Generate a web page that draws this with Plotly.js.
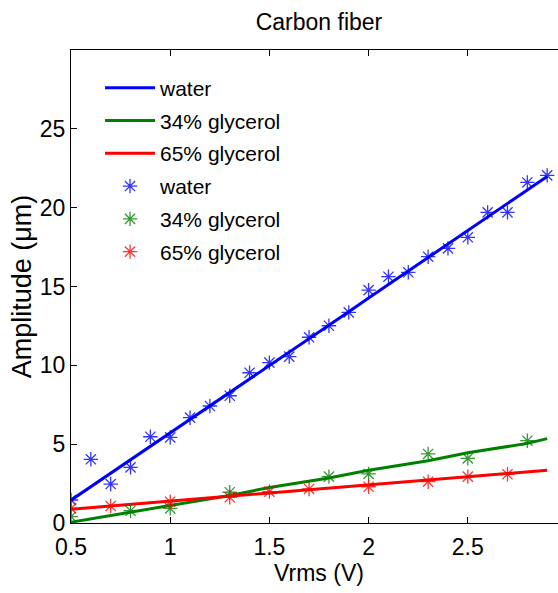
<!DOCTYPE html>
<html>
<head>
<meta charset="utf-8">
<script src="https://cdn.plot.ly/plotly-3.0.1.min.js"></script>
<style>
html,body{margin:0;padding:0;overflow:hidden;background:#fff;}
#chart{width:577px;height:593px;}
</style>
</head>
<body>
<div id="chart"></div>
<script>
// Measured points (Vrms in V, amplitude in µm)
var waterX = [0.5,0.6,0.7,0.8,0.9,1.0,1.1,1.2,1.3,1.4,1.5,1.6,1.7,1.8,1.9,2.0,2.1,2.2,2.3,2.4,2.5,2.6,2.7,2.8,2.9];
var waterY = [1.46,4.04,2.47,3.53,5.47,5.43,6.68,7.42,8.07,9.53,10.17,10.55,11.78,12.51,13.36,14.77,15.62,15.9,16.89,17.42,18.12,19.7,19.7,21.6,22.05];

var gly34X = [0.5,0.8,1.0,1.3,1.8,2.0,2.3,2.5,2.8];
var gly34Y = [0.4,0.78,0.93,1.95,2.94,3.11,4.38,4.1,5.22];

var gly65X = [0.5,0.7,1.0,1.3,1.5,1.7,2.0,2.3,2.5,2.7];
var gly65Y = [0.93,1.08,1.35,1.63,1.99,2.16,2.3,2.62,2.94,3.09];

// Fitted curves
var waterFitX = [0.5,0.6,0.7,0.8,0.9,1.0,1.1,1.2,1.3,1.4,1.5,1.6,1.7,1.8,1.9,2.0,2.1,2.2,2.3,2.4,2.5,2.6,2.7,2.8,2.9];
var waterFitY = [1.45,2.3,3.15,4.0,4.85,5.72,6.58,7.43,8.28,9.13,9.99,10.84,11.7,12.55,13.4,14.27,15.12,15.97,16.83,17.68,18.55,19.4,20.26,21.12,21.98];

var gly34FitX = [0.5,0.8,1.0,1.3,1.5,1.8,2.0,2.3,2.5,2.8,2.9];
var gly34FitY = [0.05,0.7,1.1,1.75,2.25,2.85,3.35,3.95,4.45,5.05,5.35];

var gly65FitX = [0.5,0.7,1.0,1.3,1.5,1.7,2.0,2.3,2.5,2.7,2.9];
var gly65FitY = [0.87,1.08,1.38,1.7,1.9,2.12,2.42,2.73,2.94,3.15,3.35];

var names = ['water','34% glycerol','65% glycerol'];
var colors = ['#0000ff','#008000','#ff0000'];
var markerColors = ['rgba(0,0,255,0.8)','rgba(0,128,0,0.8)','rgba(255,0,0,0.8)'];

var fitsX = [waterFitX, gly34FitX, gly65FitX];
var fitsY = [waterFitY, gly34FitY, gly65FitY];
var ptsX = [waterX, gly34X, gly65X];
var ptsY = [waterY, gly34Y, gly65Y];

var FONT = 'Liberation Sans, Arial, Helvetica, sans-serif';
var traces = [];
for (var i = 0; i < 3; i++) {
  traces.push({
    x: fitsX[i], y: fitsY[i], type: 'scatter', mode: 'lines', name: names[i],
    legendgroup: 'fit' + i,
    line: {color: colors[i], width: 3}
  });
}
for (var j = 0; j < 3; j++) {
  traces.push({
    x: ptsX[j], y: ptsY[j], type: 'scatter', mode: 'markers', name: names[j],
    legendgroup: 'pts' + j,
    marker: {symbol: 'asterisk-open', size: 12, color: markerColors[j],
             line: {color: markerColors[j], width: 1.3}}
  });
}

var layout = {
  width: 577, height: 593,
  margin: {l: 71, r: 10, t: 50, b: 70},
  paper_bgcolor: '#fff', plot_bgcolor: '#fff',
  font: {family: FONT, size: 23, color: '#000'},
  title: {text: 'Carbon fiber', font: {family: FONT, size: 23, color: '#000'},
          x: 0.5, xref: 'paper', xanchor: 'center', y: 0.963, yref: 'container', yanchor: 'middle'},
  showlegend: true,
  legend: {x: 0.0585, y: 0.963, xanchor: 'left', yanchor: 'top', bgcolor: 'rgba(0,0,0,0)',
           borderwidth: 0, font: {family: FONT, size: 21, color: '#000'},
           itemwidth: 50, traceorder: 'grouped', tracegroupgap: 2.5},
  xaxis: {
    range: [0.5, 3.0], tickvals: [0.5,1,1.5,2,2.5], ticktext: ['0.5','1','1.5','2','2.5'],
    showline: true, linecolor: '#000', linewidth: 1, mirror: 'ticks',
    ticks: 'inside', ticklen: 6, tickwidth: 1, tickcolor: '#000',
    showgrid: false, zeroline: false, ticklabelstandoff: 3,
    tickfont: {family: FONT, size: 23, color: '#000'},
    title: {text: 'Vrms (V)', font: {family: FONT, size: 23, color: '#000'}, standoff: 6}
  },
  yaxis: {
    range: [0, 30], tickvals: [0,5,10,15,20,25],
    showline: true, linecolor: '#000', linewidth: 1, mirror: 'ticks',
    ticks: 'inside', ticklen: 6, tickwidth: 1, tickcolor: '#000',
    showgrid: false, zeroline: false,
    tickfont: {family: FONT, size: 23, color: '#000'},
    title: {text: 'Amplitude (μm)', font: {family: FONT, size: 27, color: '#000'}, standoff: 0}
  }
};

Plotly.newPlot('chart', traces, layout, {staticPlot: true, displayModeBar: false});
</script>
</body>
</html>
